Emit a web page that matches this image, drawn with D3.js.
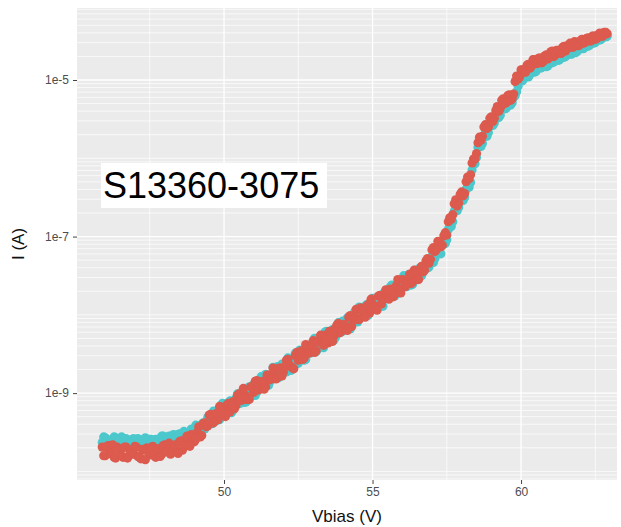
<!DOCTYPE html>
<html>
<head>
<meta charset="utf-8">
<script src="https://cdn.jsdelivr.net/npm/d3@7"></script>
<style>
  html, body { margin: 0; padding: 0; background: #ffffff; }
  svg { display: block; }
</style>
</head>
<body>
<svg id="chart" width="621" height="527"></svg>
<script>
// ---- data ----
// sweep 1 bias voltages (V)
const vbias = [
  45.9,46.0,46.1,46.2,46.3,46.4,46.5,46.6,46.7,46.8,46.9,47.0,47.1,47.2,47.3,47.4,47.5,47.6,47.7,47.8,47.9,48.0,48.1,48.2,48.3,
  48.4,48.5,48.6,48.7,48.8,48.9,49.0,49.1,49.2,49.3,49.4,49.5,49.6,49.7,49.8,
  49.9,50.0,50.1,50.2,50.3,50.4,50.5,50.6,50.7,50.8,
  50.9,51.0,51.1,51.2,51.3,51.4,51.5,51.6,51.7,51.8,
  51.9,52.0,52.1,52.2,52.3,52.4,52.5,52.6,52.7,52.8,
  52.9,53.0,53.1,53.2,53.3,53.4,53.5,53.6,53.7,53.8,
  53.9,54.0,54.1,54.2,54.3,54.4,54.5,54.6,54.7,54.8,
  54.9,55.0,55.1,55.2,55.3,55.4,55.5,55.6,55.7,55.8,
  55.9,56.0,56.1,56.2,56.3,56.4,56.5,56.6,56.7,56.8,
  56.9,57.0,57.1,57.2,57.3,57.4,57.5,57.6,57.7,57.8,
  57.9,58.0,58.1,58.2,58.3,58.4,58.5,58.6,58.7,58.8,
  58.9,59.0,59.1,59.2,59.3,59.4,59.5,59.6,59.7,59.8,
  59.9,60.0,60.1,60.2,60.3,60.4,60.5,60.6,60.7,60.8,
  60.9,61.0,61.1,61.2,61.3,61.4,61.5,61.6,61.7,61.8,
  61.9,62.0,62.1,62.2,62.3,62.4,62.5,62.6,62.7,62.8,62.9
];
// log10 of current I (A), sweep 1
const log10CurrentCyan = [
  -9.63,-9.57,-9.66,-9.60,-9.56,-9.65,-9.59,-9.64,-9.58,-9.68,-9.60,-9.65,-9.58,-9.67,-9.61,-9.66,-9.59,-9.67,-9.59,-9.63,-9.55,-9.63,-9.56,-9.60,-9.53,
  -9.59,-9.52,-9.60,-9.51,-9.55,-9.46,-9.52,-9.42,-9.48,-9.38,-9.40,-9.29,-9.39,-9.27,-9.31,
  -9.16,-9.28,-9.17,-9.10,-9.22,-9.07,-9.13,-8.99,-9.12,-8.97,
  -9.01,-8.89,-8.99,-8.84,-8.90,-8.76,-8.90,-8.77,-8.81,-8.66,
  -8.77,-8.64,-8.73,-8.57,-8.63,-8.49,-8.62,-8.49,-8.58,-8.42,
  -8.49,-8.39,-8.47,-8.29,-8.37,-8.22,-8.34,-8.22,-8.32,-8.15,
  -8.20,-8.08,-8.19,-8.05,-8.12,-7.96,-8.09,-7.96,-8.02,-7.87,
  -7.95,-7.79,-7.92,-7.80,-7.89,-7.71,-7.79,-7.64,-7.75,-7.65,
  -7.72,-7.56,-7.64,-7.49,-7.62,-7.48,-7.54,-7.40,-7.46,-7.35,
  -7.39,-7.25,-7.28,-7.16,-7.22,-7.07,-7.04,-6.86,-6.81,-6.63,
  -6.63,-6.49,-6.50,-6.35,-6.31,-6.08,-5.99,-5.81,-5.81,-5.67,
  -5.67,-5.54,-5.55,-5.43,-5.45,-5.34,-5.36,-5.26,-5.29,-5.20,
  -5.08,-4.97,-4.98,-4.90,-4.93,-4.86,-4.89,-4.81,-4.84,-4.78,
  -4.82,-4.74,-4.77,-4.71,-4.74,-4.68,-4.70,-4.63,-4.67,-4.60,
  -4.63,-4.57,-4.60,-4.54,-4.56,-4.50,-4.52,-4.47,-4.48,-4.43,-4.44
];
const log10CurrentRed = [
  -9.69,-9.80,-9.67,-9.77,-9.82,-9.69,-9.74,-9.82,-9.69,-9.80,-9.74,-9.68,-9.81,-9.84,-9.73,-9.70,-9.79,-9.68,-9.82,-9.74,-9.78,-9.66,-9.68,-9.78,-9.68,
  -9.73,-9.62,-9.73,-9.61,-9.64,-9.53,-9.62,-9.50,-9.56,-9.39,-9.43,-9.28,-9.38,-9.29,-9.34,
  -9.18,-9.24,-9.15,-9.24,-9.11,-9.16,-9.01,-9.09,-9.02,-9.07,
  -8.92,-8.99,-8.84,-8.95,-8.85,-8.92,-8.77,-8.81,-8.70,-8.80,
  -8.68,-8.73,-8.58,-8.64,-8.68,-8.52,-8.58,-8.46,-8.55,-8.45,
  -8.48,-8.33,-8.46,-8.33,-8.35,-8.26,-8.36,-8.21,-8.27,-8.13,
  -8.23,-8.14,-8.15,-8.03,-8.15,-8.01,-8.06,-7.91,-7.98,-7.89,
  -7.98,-7.86,-7.89,-7.76,-7.86,-7.74,-7.77,-7.67,-7.77,-7.63,
  -7.67,-7.55,-7.64,-7.54,-7.60,-7.43,-7.51,-7.41,-7.45,-7.31,
  -7.34,-7.17,-7.19,-7.06,-7.13,-6.99,-6.98,-6.76,-6.72,-6.53,
  -6.57,-6.43,-6.45,-6.24,-6.21,-6.01,-5.94,-5.73,-5.72,-5.57,
  -5.60,-5.47,-5.49,-5.34,-5.36,-5.24,-5.29,-5.19,-5.24,-5.02,
  -4.99,-4.87,-4.90,-4.81,-4.85,-4.74,-4.79,-4.72,-4.78,-4.69,
  -4.73,-4.64,-4.70,-4.62,-4.65,-4.58,-4.63,-4.55,-4.58,-4.51,
  -4.56,-4.50,-4.53,-4.47,-4.50,-4.44,-4.48,-4.42,-4.44,-4.39,-4.41
];
// sweep 2 bias voltages (V)
const vbias2 = [
  45.95,46.05,46.15,46.25,46.35,46.45,46.55,46.65,46.75,46.85,46.95,47.05,47.15,47.25,47.35,47.45,47.55,47.65,47.75,47.85,47.95,48.05,48.15,48.25,
  48.35,48.45,48.55,48.65,48.75,48.85,48.95,49.05,49.15,49.25,49.35,49.45,49.55,49.65,49.75,
  49.85,49.95,50.05,50.15,50.25,50.35,50.45,50.55,50.65,50.75,
  50.85,50.95,51.05,51.15,51.25,51.35,51.45,51.55,51.65,51.75,
  51.85,51.95,52.05,52.15,52.25,52.35,52.45,52.55,52.65,52.75,
  52.85,52.95,53.05,53.15,53.25,53.35,53.45,53.55,53.65,53.75,
  53.85,53.95,54.05,54.15,54.25,54.35,54.45,54.55,54.65,54.75,
  54.85,54.95,55.05,55.15,55.25,55.35,55.45,55.55,55.65,55.75,
  55.85,55.95,56.05,56.15,56.25,56.35,56.45,56.55,
  56.65,56.75,56.85,56.95,57.05,57.15,57.25,57.35,57.45,57.55,
  57.65,57.75,57.85,57.95,58.05,58.15,58.25,58.35,58.45,58.55,
  58.65,58.75,58.85,58.95,59.05,59.15,59.25,59.35,59.45,59.55,
  59.65,59.75,
  59.85,59.95,60.05,60.15,60.25,60.35,60.45,60.55,60.65,60.75,
  60.85,60.95,61.05,61.15,61.25,61.35,61.45,61.55,61.65,61.75,
  61.85,61.95,62.05,62.15,62.25,62.35,62.45,62.55,62.65,62.75,62.85
];
const log10CurrentCyan2 = [
  -9.56,-9.65,-9.60,-9.68,-9.57,-9.64,-9.56,-9.67,-9.60,-9.66,-9.58,-9.69,-9.61,-9.67,-9.57,-9.66,-9.59,-9.67,-9.59,-9.63,-9.55,-9.63,-9.55,-9.62,
  -9.63,-9.53,-9.60,-9.49,-9.60,-9.50,-9.55,-9.41,-9.50,-9.40,-9.46,-9.31,-9.36,-9.23,-9.35,
  -9.34,-9.13,-9.23,-9.12,-9.25,-9.10,-9.01,-9.13,-9.00,-9.11,
  -8.92,-8.98,-9.03,-8.86,-8.79,-8.92,-8.80,-8.85,-8.67,-8.79,
  -8.80,-8.63,-8.68,-8.55,-8.71,-8.55,-8.62,-8.45,-8.50,-8.57,
  -8.39,-8.47,-8.30,-8.44,-8.33,-8.42,-8.21,-8.30,-8.19,-8.29,
  -8.10,-8.22,-8.10,-8.04,-8.18,-8.01,-8.08,-7.90,-7.99,-7.89,
  -8.01,-7.87,-7.79,-7.90,-7.77,-7.89,-7.69,-7.76,-7.62,-7.76,
  -7.60,-7.67,-7.50,-7.64,-7.52,-7.61,-7.43,-7.49,
  -7.50,-7.37,-7.40,-7.28,-7.33,-7.20,-7.21,-7.08,-7.09,-6.91,
  -6.87,-6.68,-6.67,-6.52,-6.54,-6.40,-6.37,-6.15,-6.07,-5.86,
  -5.85,-5.71,-5.72,-5.57,-5.58,-5.44,-5.48,-5.36,-5.37,-5.28,
  -5.32,-5.22,
  -5.15,-5.02,-5.01,-4.93,-4.96,-4.87,-4.90,-4.82,-4.85,-4.79,
  -4.83,-4.75,-4.78,-4.72,-4.75,-4.68,-4.71,-4.63,-4.67,-4.61,
  -4.65,-4.58,-4.60,-4.55,-4.57,-4.51,-4.53,-4.48,-4.49,-4.44,-4.45
];
const log10CurrentRed2 = [
  -9.80,-9.69,-9.77,-9.66,-9.83,-9.72,-9.80,-9.69,-9.83,-9.73,-9.78,-9.69,-9.82,-9.72,-9.85,-9.75,-9.70,-9.80,-9.71,-9.81,-9.67,-9.75,-9.64,-9.76,
  -9.66,-9.77,-9.61,-9.68,-9.55,-9.68,-9.56,-9.59,-9.43,-9.54,-9.38,-9.42,-9.27,-9.38,-9.26,
  -9.17,-9.27,-9.30,-9.13,-9.14,-9.20,-9.03,-9.09,-8.94,-9.08,
  -9.08,-8.93,-8.85,-8.96,-8.86,-8.95,-8.77,-8.83,-8.68,-8.82,
  -8.68,-8.78,-8.66,-8.57,-8.66,-8.69,-8.48,-8.50,-8.57,-8.38,
  -8.49,-8.38,-8.48,-8.35,-8.26,-8.39,-8.32,-8.21,-8.34,-8.17,
  -8.11,-8.21,-8.12,-8.20,-8.01,-8.07,-7.93,-8.06,-7.94,-8.03,
  -7.87,-7.80,-7.91,-7.94,-7.75,-7.80,-7.68,-7.80,-7.69,-7.73,
  -7.55,-7.72,-7.56,-7.60,-7.48,-7.58,-7.44,-7.55,
  -7.38,-7.43,-7.28,-7.29,-7.14,-7.17,-7.07,-7.11,-6.95,-6.81,
  -6.78,-6.58,-6.61,-6.46,-6.48,-6.30,-6.26,-6.06,-6.01,-5.80,
  -5.77,-5.60,-5.62,-5.49,-5.53,-5.39,-5.40,-5.26,-5.30,-5.20,
  -5.26,-5.18,
  -4.95,-4.96,-4.87,-4.90,-4.80,-4.82,-4.74,-4.79,-4.72,-4.76,
  -4.68,-4.71,-4.63,-4.68,-4.62,-4.66,-4.57,-4.60,-4.53,-4.58,
  -4.52,-4.56,-4.48,-4.52,-4.46,-4.50,-4.44,-4.47,-4.40,-4.44,-4.39
];
const xTicks = [50, 55, 60];
const xMinorGrid = [47.5, 52.5, 57.5, 62.5];
const yTicks = [1e-9, 1e-7, 1e-5];
const yTickLabels = ["1e-9", "1e-7", "1e-5"];
const xTitle = "Vbias (V)";
const yTitle = "I (A)";
const annotation = "S13360-3075";

// ---- layout ----
const panel = { left: 77, right: 617, top: 8, bottom: 480 };
const svg = d3.select("#chart");
const font = "'Liberation Sans', Arial, Helvetica, sans-serif";

const x = d3.scaleLinear().domain([45.05, 63.23]).range([panel.left, panel.right]);
const y = d3.scaleLog().domain([Math.pow(10, -10.11), Math.pow(10, -4.08)]).range([panel.bottom, panel.top]);

svg.append("rect")
  .attr("x", panel.left).attr("y", panel.top)
  .attr("width", panel.right - panel.left).attr("height", panel.bottom - panel.top)
  .attr("fill", "#ebebeb");

const grid = svg.append("g");
const [yLo, yHi] = y.domain();
const minorY = [];
for (let n = -11; n <= -4; n++) {
  for (let k = 1; k <= 9; k++) {
    const v = k * Math.pow(10, n);
    if (v >= yLo && v <= yHi && !yTicks.some(t => Math.abs(t - v) / t < 1e-6)) minorY.push(v);
  }
}
grid.selectAll(".hmin").data(minorY).join("line")
  .attr("x1", panel.left).attr("x2", panel.right)
  .attr("y1", d => y(d)).attr("y2", d => y(d))
  .attr("stroke", "#ffffff").attr("stroke-width", 0.7);
grid.selectAll(".vmin").data(xMinorGrid).join("line")
  .attr("x1", d => x(d)).attr("x2", d => x(d))
  .attr("y1", panel.top).attr("y2", panel.bottom)
  .attr("stroke", "#ffffff").attr("stroke-width", 0.7);
grid.selectAll(".hmaj").data(yTicks).join("line")
  .attr("x1", panel.left).attr("x2", panel.right)
  .attr("y1", d => y(d)).attr("y2", d => y(d))
  .attr("stroke", "#ffffff").attr("stroke-width", 1.3);
grid.selectAll(".vmaj").data(xTicks).join("line")
  .attr("x1", d => x(d)).attr("x2", d => x(d))
  .attr("y1", panel.top).attr("y2", panel.bottom)
  .attr("stroke", "#ffffff").attr("stroke-width", 1.3);

// points
const toPts = (vs, logs) => vs.map((v, i) => ({ v, I: Math.pow(10, logs[i]) }));
const cyanPts = toPts(vbias, log10CurrentCyan).concat(toPts(vbias2, log10CurrentCyan2));
const redPts = toPts(vbias, log10CurrentRed).concat(toPts(vbias2, log10CurrentRed2));
const r = 4.6;
svg.append("g").selectAll("circle").data(cyanPts).join("circle")
  .attr("cx", d => x(d.v)).attr("cy", d => y(d.I)).attr("r", r)
  .attr("fill", "#4cc8cd");
svg.append("g").selectAll("circle").data(redPts).join("circle")
  .attr("cx", d => x(d.v)).attr("cy", d => y(d.I)).attr("r", r)
  .attr("fill", "#dc5a4e");

// axes
const xAxis = svg.append("g")
  .attr("transform", `translate(0,${panel.bottom})`)
  .call(d3.axisBottom(x).tickValues(xTicks).tickSize(4).tickPadding(3).tickFormat(d3.format("d")));
const yAxis = svg.append("g")
  .attr("transform", `translate(${panel.left},0)`)
  .call(d3.axisLeft(y).tickValues(yTicks).tickSize(4).tickPadding(4)
    .tickFormat((d, i) => yTickLabels[i]));
[xAxis, yAxis].forEach(a => {
  a.select(".domain").remove();
  a.selectAll(".tick line").attr("stroke", "#444").attr("stroke-width", 1);
  a.selectAll(".tick text").attr("fill", "#4d4d4d").style("font-family", font).style("font-size", "12px");
});

svg.append("text")
  .attr("x", (panel.left + panel.right) / 2).attr("y", 522)
  .attr("text-anchor", "middle")
  .style("font-family", font).style("font-size", "17px").attr("fill", "#111")
  .text(xTitle);
svg.append("text")
  .attr("transform", `translate(24,${(panel.top + panel.bottom) / 2}) rotate(-90)`)
  .attr("text-anchor", "middle")
  .style("font-family", font).style("font-size", "17px").attr("fill", "#111")
  .text(yTitle);

// annotation box
svg.append("rect")
  .attr("x", 101).attr("y", 163).attr("width", 226).attr("height", 45)
  .attr("fill", "#ffffff");
svg.append("text")
  .attr("x", 103).attr("y", 198)
  .style("font-family", font).style("font-size", "36px").attr("fill", "#000")
  .text(annotation);
</script>
</body>
</html>
